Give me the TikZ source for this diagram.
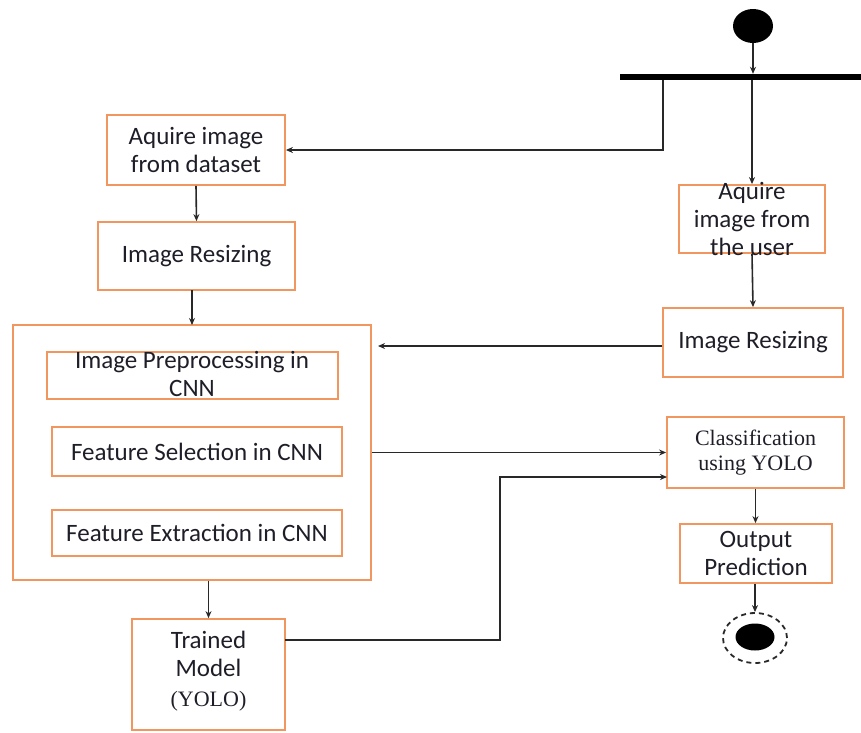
\documentclass[tikz,border=0pt]{standalone}
\usepackage{fontspec}
\setmainfont{Carlito}
\newfontfamily\tnr{Liberation Serif}
\usetikzlibrary{shapes.geometric,arrows.meta}
\definecolor{boxorange}{RGB}{242,150,95}
\definecolor{linegray}{RGB}{40,40,40}
\definecolor{txt}{RGB}{30,30,40}
\tikzset{
  box/.style={draw=boxorange, line width=1.8pt, rectangle, inner sep=0pt, fill=none},
  lbl/.style={text=txt, align=center, inner sep=0pt, font=\fontsize{25}{28}\selectfont},
  lblserif/.style={text=txt, align=center, inner sep=0pt, font=\tnr\fontsize{22}{25}\selectfont},
  arr/.style={draw=linegray, line width=1.6pt, -{Stealth[length=7pt,width=6pt]}},
  ln/.style={draw=linegray, line width=1.6pt}
}
\begin{document}
\begin{tikzpicture}[x=1pt,y=-1pt]
\useasboundingbox (0,0) rectangle (861,732);
% start and fork bar
\node[ellipse, fill=black, minimum width=40, minimum height=34, inner sep=0pt] (start) at (753,26) {};
\node[rectangle, fill=black, minimum width=241, minimum height=6, inner sep=0pt] (bar) at (740.5,77) {};
% left column
\node[box, minimum width=178, minimum height=70] (aq1) at (196,150) {};
\node[lbl] (aq1t) at (aq1) {Aquire image\\from dataset};
\node[box, minimum width=197, minimum height=68] (rs1) at (196.5,256) {};
\node[lbl] (rs1t) at (rs1) {Image Resizing};
\node[box, minimum width=358, minimum height=255] (big) at (192,452.5) {};
\node[box, minimum width=291, minimum height=47] (pp) at (192.5,375.5) {};
\node[lbl] (ppt) at (192,374) {Image Preprocessing in\\CNN};
\node[box, minimum width=290, minimum height=49] (fs) at (197,451.5) {};
\node[lbl] (fst) at (fs) {Feature Selection in CNN};
\node[box, minimum width=290, minimum height=46] (fe) at (197,533) {};
\node[lbl] (fet) at (fe) {Feature Extraction in CNN};
\node[box, minimum width=153, minimum height=111] (tm) at (208.5,674.5) {};
\node[lbl] (tmt1) at (208.5,640) {Trained};
\node[lbl] (tmt2) at (208.5,668) {Model};
\node[lblserif] (tmt3) at (208.5,701) {(YOLO)};
% right column
\node[box, minimum width=146, minimum height=68] (aq2) at (752,219) {};
\node[lbl] (aq2t) at (aq2) {Aquire\\image from\\the user};
\node[box, minimum width=180, minimum height=69] (rs2) at (753,342.5) {};
\node[lbl] (rs2t) at (rs2) {Image Resizing};
\node[box, minimum width=177, minimum height=71] (cls) at (755.5,452.5) {};
\node[lblserif] (clst) at (cls) {Classification\\using YOLO};
\node[box, minimum width=152, minimum height=59] (op) at (756,553.5) {};
\node[lbl] (opt) at (op) {Output\\Prediction};
% end node
\node[ellipse, draw=linegray, line width=1.8pt, dash pattern=on 5pt off 4pt, minimum width=64, minimum height=50, inner sep=0pt] (endo) at (755,638) {};
\node[ellipse, fill=black, minimum width=39, minimum height=27, inner sep=0pt] (endi) at (755,637) {};
% coordinates
\coordinate (f1) at (663,80);
\coordinate (bigin) at (378,346);
\coordinate (tmout) at (285,640);
\coordinate (bend) at (500,477);
\coordinate (clsin) at (667,477);
\coordinate (rs1out) at (192,290);
\coordinate (bigtop) at (192,325);
% connectors
\draw[arr] (start.south) -- (start.south |- bar.north);
\draw[arr] (f1) |- (aq1.east);
\draw[arr] (bar.south -| aq2.north) -- (aq2.north);
\draw[arr] (aq1.south) -- (rs1.north);
\draw[arr] (rs1out) -- (bigtop);
\draw[arr] (aq2.south) -- (rs2.north);
\draw[arr] (rs2.west |- bigin) -- (bigin);
\draw[arr] (big.east) -- (cls.west);
\draw[arr] (big.south -| tm.north) -- (tm.north);
\draw[arr] (tmout) -| (bend) -- (clsin);
\draw[arr] (cls.south) -- (cls.south |- op.north);
\draw[arr] (op.south -| endo.north) -- (endo.north);
\end{tikzpicture}
\end{document}
